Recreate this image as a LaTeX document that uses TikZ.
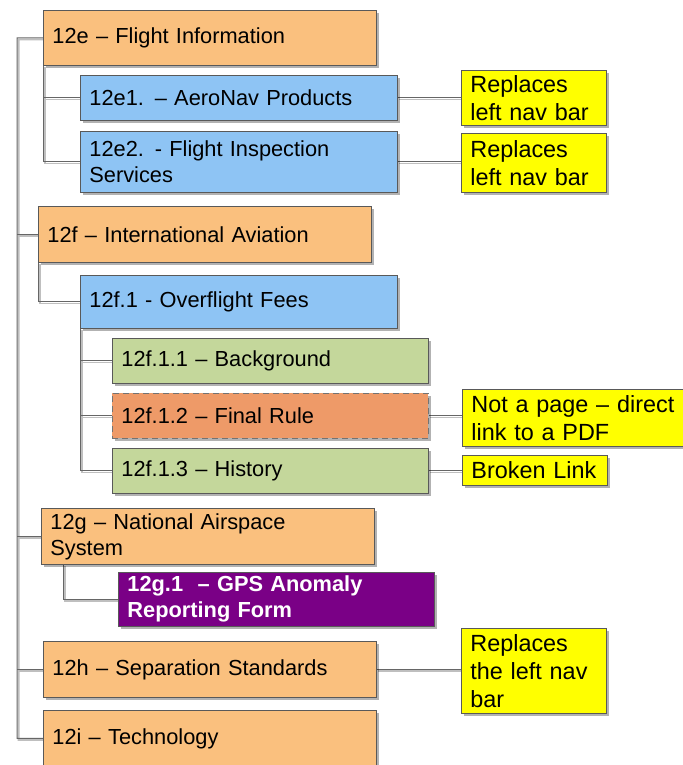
\documentclass[tikz,border=0pt]{standalone}
\usepackage{fontspec}
\setmainfont{Liberation Sans}
\usetikzlibrary{shadows,backgrounds}
\definecolor{peach}{HTML}{FAC07E}
\definecolor{sky}{HTML}{8EC4F4}
\definecolor{sage}{HTML}{C4D79B}
\definecolor{coral}{HTML}{EE9A68}
\definecolor{plum}{HTML}{7A0086}
\definecolor{note}{HTML}{FFFF00}

\begin{document}
\begin{tikzpicture}[x=0.5pt,y=-0.5pt, every node/.style={font=\fontsize{10.9}{13}\selectfont}]

        \tikzset{box/.style = {draw=black!65, line width=0.4pt, anchor=north west, inner xsep=4.5pt, inner ysep=0pt, align=left,
                drop shadow={shadow xshift=1.5pt, shadow yshift=-1.5pt, fill=black, opacity=0.3}}}
        \tikzset{topbox/.style = {box, fill=peach, text width=157.5pt, minimum height=28pt}}
        \tikzset{subbox/.style = {box, fill=sky, text width=149.5pt}}
        \tikzset{leafbox/.style = {box, fill=sage, text width=149pt, minimum height=22.5pt}}
        \tikzset{notebox/.style = {box, fill=note, text width=63.5pt, font=\fontsize{11.7}{14}\selectfont}}
        \tikzset{link/.style = {draw=black!60, line width=0.5pt,
                preaction={draw=black!25, line width=0.9pt, transform canvas={shift={(0.8pt,-0.8pt)}}}}}

        \useasboundingbox (0,0) rectangle (682,765);

        % sections
        \node[topbox, minimum height=27.5pt] (fi) at (43,10) {12e – Flight Information};
        \node[topbox] (ia) at (38,206) {12f – International Aviation};
        \node[topbox] (nas) at (41,508) {12g – National Airspace\\System};
        \node[topbox] (ss) at (43,641) {12h – Separation Standards};
        \node[topbox] (te) at (43,710) {12i – Technology};

        % pages
        \node[subbox, minimum height=22.5pt] (an) at (80,75) {12e1. – AeroNav Products};
        \node[subbox, minimum height=30.5pt] (fis) at (80,131) {12e2. - Flight Inspection\\Services};
        \node[subbox, minimum height=26.5pt] (of) at (80,275) {12f.1 - Overflight Fees};
        \node[leafbox] (bg) at (112,338) {12f.1.1 – Background};
        \node[leafbox, fill=coral, draw=black!55, densely dashed] (fr) at (112,393) {12f.1.2 – Final Rule};
        \node[leafbox] (hi) at (112,448) {12f.1.3 – History};
        \node[box, fill=plum, text=white, text width=149pt, minimum height=27pt, font=\fontsize{10.9}{13}\selectfont\bfseries]
                (gps) at (118,572) {12g.1\ \ – GPS Anomaly\\Reporting Form};

        % notes
        \node[notebox, minimum height=27.5pt] (n1) at (461,70) {Replaces\\left nav bar};
        \node[notebox, minimum height=29.5pt] (n2) at (461,133) {Replaces\\left nav bar};
        \node[notebox, text width=120pt, minimum height=28.5pt] (n3) at (462,389) {Not a page – direct\\link to a PDF};
        \node[notebox, text width=66pt, inner xsep=3.25pt, minimum height=15pt] (n4) at (462,455) {\hspace*{1.25pt}Broken Link};
        \node[notebox, minimum height=42.5pt] (n5) at (461,628) {Replaces\\the left nav\\bar};

        \begin{scope}[on background layer]
            \fill[white] (0,0) rectangle (682,765);
            \coordinate (trunk) at (17,38);
            \draw[link] (fi.west) -- (trunk) |- (te.west);
            \foreach \n in {ia,nas,ss}
                \draw[link] (trunk |- \n.west) -- (\n.west);

            \draw[link] (fi.south west) |- (fis.west);
            \draw[link] (fi.south west |- an.west) -- (an.west);
            \draw[link] (ia.south west) |- (of.west);
            \draw[link] (of.south west) |- (hi.west);
            \foreach \n in {bg,fr}
                \draw[link] (of.south west |- \n.west) -- (\n.west);
            \draw[link] ([xshift=11pt]nas.south west) |- (gps.west);

            \draw[link] (an.east) -- (an.east -| n1.west);
            \draw[link] (fis.east) -- (fis.east -| n2.west);
            \draw[link] (fr.east) -- (fr.east -| n3.west);
            \draw[link] (hi.east) -- (hi.east -| n4.west);
            \draw[link] (ss.east) -- (ss.east -| n5.west);
        \end{scope}
\end{tikzpicture}
\end{document}
